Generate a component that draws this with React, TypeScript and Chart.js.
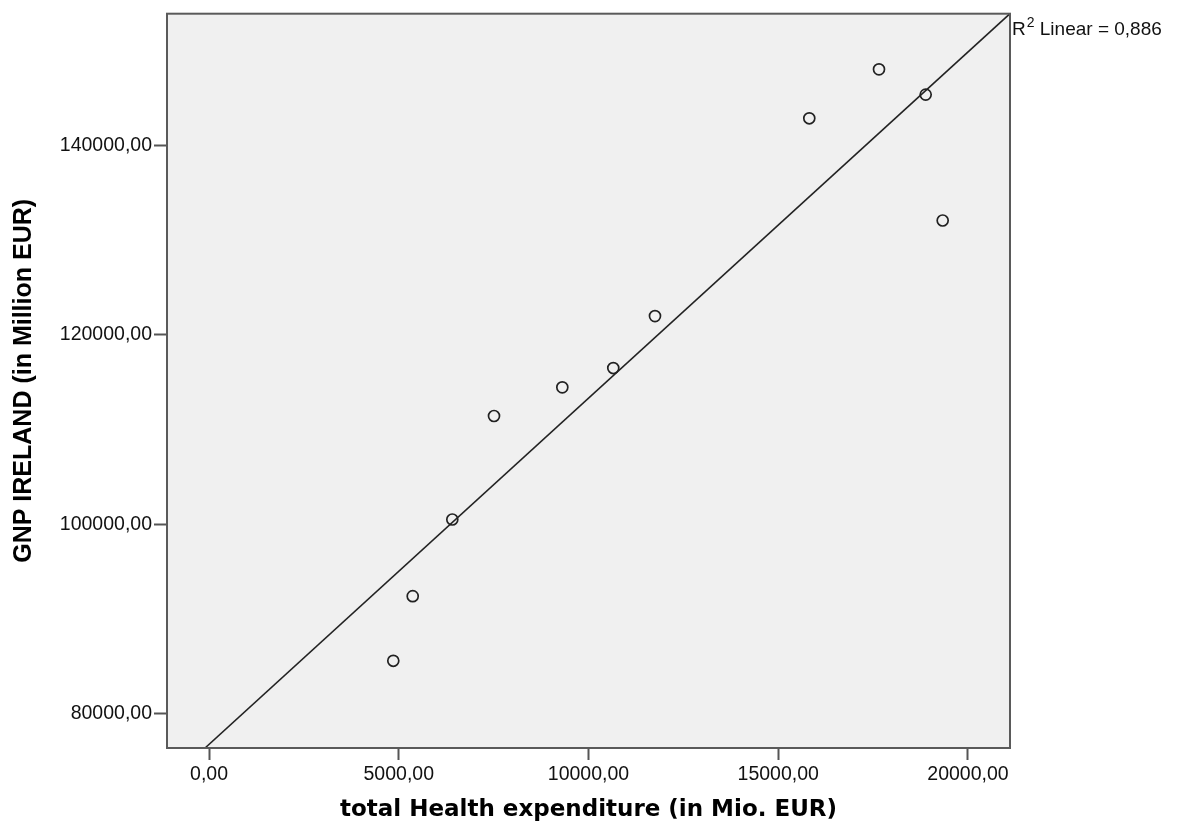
import React, { useEffect, useRef } from "react";
import { Chart, registerables } from "chart.js";

Chart.register(...registerables);

// Data
const HEALTH_EXPENDITURE = [4856, 5368, 6411, 7510, 9310, 10653, 11752, 15818, 17655, 18885, 19333];
const GNP_IRELAND = [85573, 92401, 100496, 111430, 114459, 116496, 121984, 142881, 148053, 145383, 132084];
const FIT_X = [-105, 21107];
const FIT_Y = [76359, 153931];
const X_TICKS = [0, 5000, 10000, 15000, 20000];
const Y_TICKS = [80000, 100000, 120000, 140000];
const X_RANGE = [-1107, 21107];
const Y_RANGE = [76359, 153931];
const X_TITLE = "total Health expenditure (in Mio. EUR)";
const Y_TITLE = "GNP IRELAND (in Million EUR)";
const R2_PREFIX = "R";
const R2_SUP = "2";
const R2_TEXT = " Linear = 0,886";

const fmt = (v: number) => v.toFixed(2).replace(".", ",");

const framePlugin = {
  id: "frame",
  beforeDraw(chart: any) {
    const { ctx, chartArea: a } = chart;
    ctx.save();
    ctx.fillStyle = "#f0f0f0";
    ctx.fillRect(a.left, a.top, a.right - a.left, a.bottom - a.top);
    ctx.restore();
  },
  afterDraw(chart: any) {
    const { ctx, chartArea: a } = chart;
    ctx.save();
    ctx.strokeStyle = "#5a5a5a";
    ctx.lineWidth = 2;
    ctx.strokeRect(a.left, a.top, a.right - a.left, a.bottom - a.top);
    // R² label
    ctx.fillStyle = "#111111";
    ctx.textBaseline = "alphabetic";
    ctx.textAlign = "left";
    let x = a.right + 2;
    const y = 35;
    ctx.font = "19px 'Liberation Sans', Arial, sans-serif";
    ctx.fillText(R2_PREFIX, x, y);
    x += ctx.measureText(R2_PREFIX).width + 1;
    ctx.font = "14px 'Liberation Sans', Arial, sans-serif";
    ctx.fillText(R2_SUP, x, y - 8);
    x += ctx.measureText(R2_SUP).width;
    ctx.font = "19px 'Liberation Sans', Arial, sans-serif";
    ctx.fillText(R2_TEXT, x, y);
    ctx.restore();
  },
};

export default function App() {
  const ref = useRef<HTMLCanvasElement | null>(null);
  useEffect(() => {
    if (!ref.current) return;
    const points = HEALTH_EXPENDITURE.map((x, i) => ({ x, y: GNP_IRELAND[i] }));
    const fit = FIT_X.map((x, i) => ({ x, y: FIT_Y[i] }));
    const chart = new Chart(ref.current, {
      type: "scatter",
      data: {
        datasets: [
          {
            type: "line",
            data: fit,
            borderColor: "#222222",
            borderWidth: 1.6,
            pointRadius: 0,
            showLine: true,
            fill: false,
          } as any,
          {
            data: points,
            pointStyle: "circle",
            pointRadius: 5.5,
            pointBorderWidth: 1.7,
            borderColor: "#222222",
            backgroundColor: "rgba(0,0,0,0)",
          },
        ],
      },
      options: {
        responsive: false,
        animation: false,
        layout: { padding: { top: 13, right: 170, bottom: 0, left: 0 } },
        plugins: { legend: { display: false }, tooltip: { enabled: false } },
        scales: {
          x: {
            type: "linear",
            min: X_RANGE[0],
            max: X_RANGE[1],
            afterBuildTicks: (s: any) => {
              s.ticks = X_TICKS.map((v) => ({ value: v }));
            },
            afterFit: (s: any) => {
              s.height = 79;
            },
            border: { display: false },
            grid: {
              drawOnChartArea: false,
              drawTicks: true,
              tickLength: 12,
              tickColor: "#555555",
              tickWidth: 2,
            },
            ticks: {
              callback: (v: any) => fmt(Number(v)),
              color: "#111111",
              padding: 3,
              maxRotation: 0,
              font: { family: "'Liberation Sans', Arial, sans-serif", size: 19.5 },
            },
            title: {
              display: true,
              text: X_TITLE,
              color: "#000000",
              padding: { top: 0, bottom: 3 },
              font: { family: "'DejaVu Sans', sans-serif", size: 23, weight: "bold" },
            },
          },
          y: {
            type: "linear",
            min: Y_RANGE[0],
            max: Y_RANGE[1],
            afterBuildTicks: (s: any) => {
              s.ticks = Y_TICKS.map((v) => ({ value: v }));
            },
            afterFit: (s: any) => {
              s.width = 167;
            },
            border: { display: false },
            grid: {
              drawOnChartArea: false,
              drawTicks: true,
              tickLength: 13,
              tickColor: "#555555",
              tickWidth: 2,
            },
            ticks: {
              callback: (v: any) => fmt(Number(v)),
              color: "#111111",
              padding: 2,
              font: { family: "'Liberation Sans', Arial, sans-serif", size: 19.5 },
            },
            title: {
              display: true,
              text: Y_TITLE,
              color: "#000000",
              padding: { top: 9, bottom: 0 },
              font: { family: "'Liberation Sans', Arial, sans-serif", size: 25, weight: "bold" },
            },
          },
        },
      },
      plugins: [framePlugin],
    });
    return () => chart.destroy();
  }, []);
  return (
    <div style={{ position: "absolute", left: 0, top: 0, width: 1180, height: 827, background: "#ffffff" }}>
      <canvas ref={ref} width={1180} height={827} style={{ display: "block" }} />
    </div>
  );
}
